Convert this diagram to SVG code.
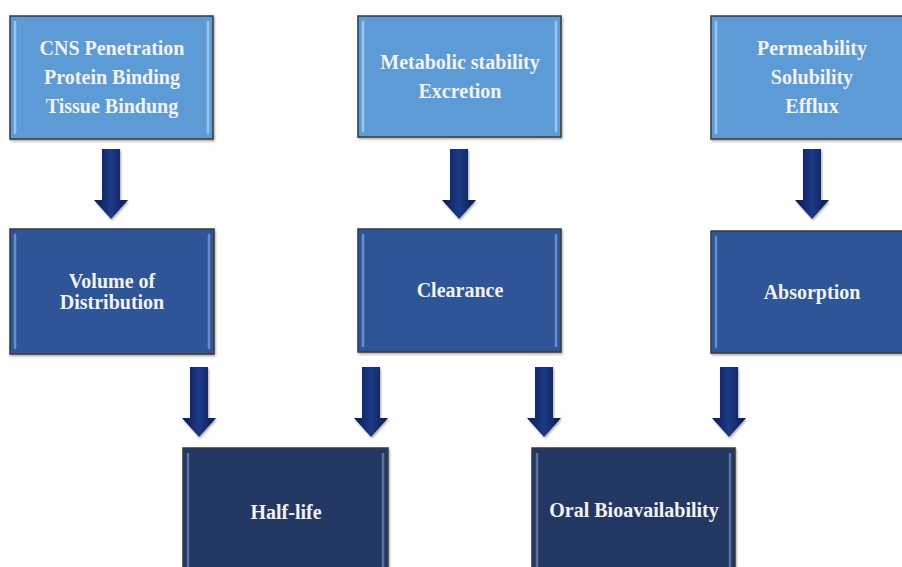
<svg xmlns="http://www.w3.org/2000/svg" xmlns:xlink="http://www.w3.org/1999/xlink" width="902" height="567" viewBox="0 0 902 567">
<style>
.box{stroke:#3a3a3a;stroke-width:1.5}
.l1{fill:#5b9bd5}
.l2{fill:#2f5597}
.l3{fill:#203864}
.hl{stroke:#a9cdf0;stroke-width:2.5;stroke-linecap:round;opacity:0.85}
.hl2{stroke:#6f94d0;stroke-width:2.5;stroke-linecap:round;opacity:0.9}
.hl3{stroke:#5f7aa8;stroke-width:2.5;stroke-linecap:round;opacity:0.9}
text{font-family:"Liberation Serif","Times New Roman",serif;font-weight:bold;font-size:20px;fill:#f2f2f2;text-anchor:middle}
</style>
<defs>
<linearGradient id="ag" x1="0" y1="0" x2="1" y2="0">
<stop offset="0" stop-color="#081a52"/>
<stop offset="0.5" stop-color="#1d3a85"/>
<stop offset="1" stop-color="#081a52"/>
</linearGradient>
<filter id="sh" x="-10%" y="-10%" width="130%" height="130%">
<feDropShadow dx="1" dy="1.5" stdDeviation="1.2" flood-color="#000" flood-opacity="0.35"/>
</filter>
<path id="arr" d="M-9,0 H9 V51 H17 L0,70 L-17,51 H-9 Z" fill="url(#ag)" filter="url(#sh)"/>
</defs>
<rect width="902" height="567" fill="#ffffff"/>

<g id="connectors">
<use xlink:href="#arr" x="111" y="149"/>
<use xlink:href="#arr" x="459" y="149"/>
<use xlink:href="#arr" x="812" y="149"/>
<use xlink:href="#arr" x="199" y="367"/>
<use xlink:href="#arr" x="371" y="367"/>
<use xlink:href="#arr" x="544" y="367"/>
<use xlink:href="#arr" x="729" y="367"/>
</g>

<g id="cns">
<rect class="box l1" x="10" y="16" width="203" height="123" filter="url(#sh)"/>
<line class="hl" x1="15" y1="22" x2="15" y2="133"/>
<line class="hl" x1="208" y1="22" x2="208" y2="133"/>
<text x="112" y="55">CNS Penetration</text>
<text x="112" y="84">Protein Binding</text>
<text x="112" y="113">Tissue Bindung</text>
</g>

<g id="metab">
<rect class="box l1" x="358" y="16" width="203" height="121" filter="url(#sh)"/>
<line class="hl" x1="363" y1="22" x2="363" y2="131"/>
<line class="hl" x1="556" y1="22" x2="556" y2="131"/>
<text x="460" y="69">Metabolic stability</text>
<text x="460" y="98">Excretion</text>
</g>

<g id="perm">
<rect class="box l1" x="711" y="16" width="203" height="123" filter="url(#sh)"/>
<line class="hl" x1="716" y1="22" x2="716" y2="133"/>
<text x="812" y="55">Permeability</text>
<text x="812" y="84">Solubility</text>
<text x="812" y="113">Efflux</text>
</g>

<g id="vd">
<rect class="box l2" x="10" y="229" width="204" height="125" filter="url(#sh)"/>
<line class="hl2" x1="15" y1="235" x2="15" y2="348"/>
<line class="hl2" x1="209" y1="235" x2="209" y2="348"/>
<text x="112" y="288">Volume of</text>
<text x="112" y="309">Distribution</text>
</g>

<g id="clearance">
<rect class="box l2" x="358" y="229" width="203" height="123" filter="url(#sh)"/>
<line class="hl2" x1="363" y1="235" x2="363" y2="346"/>
<line class="hl2" x1="556" y1="235" x2="556" y2="346"/>
<text x="460" y="297">Clearance</text>
</g>

<g id="absorption">
<rect class="box l2" x="711" y="231" width="203" height="122" filter="url(#sh)"/>
<line class="hl2" x1="716" y1="237" x2="716" y2="347"/>
<text x="812" y="299">Absorption</text>
</g>

<g id="halflife">
<rect class="box l3" x="183" y="448" width="205" height="130" filter="url(#sh)"/>
<line class="hl3" x1="188" y1="454" x2="188" y2="572"/>
<line class="hl3" x1="383" y1="454" x2="383" y2="572"/>
<text x="286" y="519">Half-life</text>
</g>

<g id="oral">
<rect class="box l3" x="532" y="448" width="203" height="130" filter="url(#sh)"/>
<line class="hl3" x1="537" y1="454" x2="537" y2="572"/>
<line class="hl3" x1="730" y1="454" x2="730" y2="572"/>
<text x="634" y="517">Oral Bioavailability</text>
</g>
</svg>
